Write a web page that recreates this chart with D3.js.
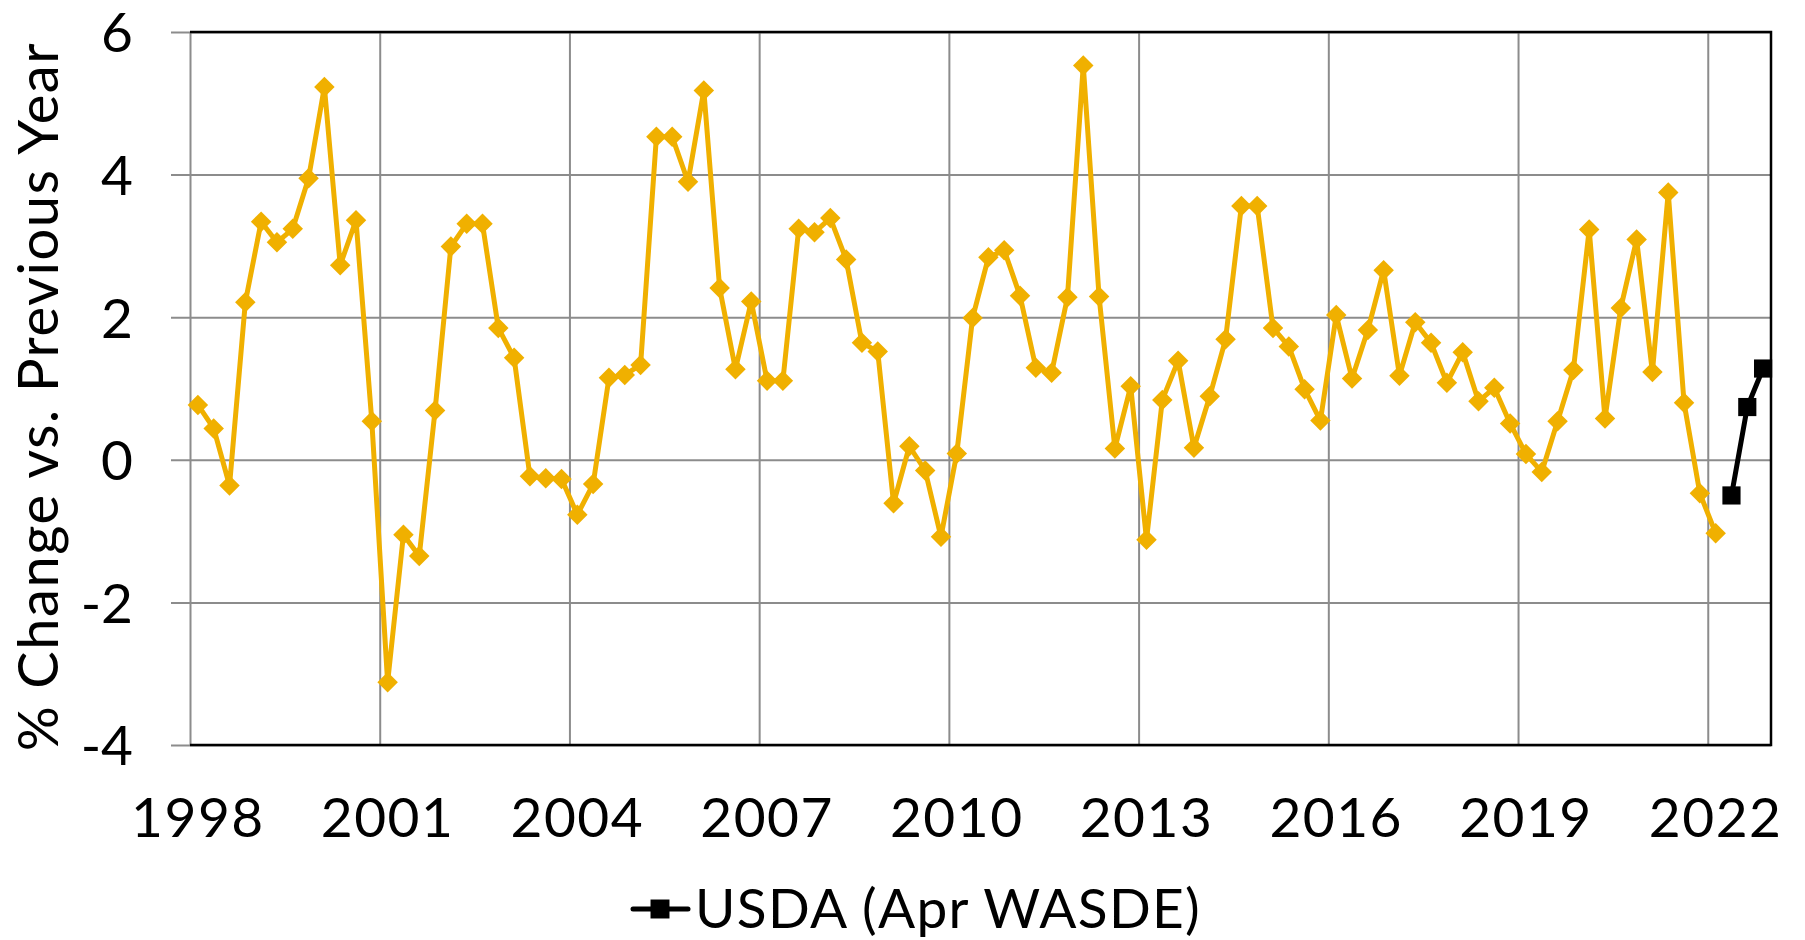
<!DOCTYPE html>
<html>
<head>
<meta charset="utf-8">
<script src="https://cdn.jsdelivr.net/npm/d3@7"></script>
<style>
  body { margin: 0; background: #fff; }
  text { font-family: Lato, "Noto Sans", sans-serif; fill: #000; }
</style>
</head>
<body>
<div id="chart"></div>
<script>
//////////////////////////////////////////////////////////////
///////////////////// Data ///////////////////////////////////
//////////////////////////////////////////////////////////////

//Quarterly series, 1998 Q1 through 2022 Q1
const startYear = 1998;
const quarters = [1, 2, 3, 4];
const yearTicks = [1998, 2001, 2004, 2007, 2010, 2013, 2016, 2019, 2022];
const yTicks = [-4, -2, 0, 2, 4, 6];

const historyValues = [
  0.77, 0.44, -0.36, 2.21, 3.34, 3.05, 3.24, 3.95, 5.23, 2.73, 3.36, 0.54,
  -3.12, -1.05, -1.35, 0.69, 2.99, 3.31, 3.31, 1.85, 1.43, -0.23, -0.26, -0.27,
  -0.77, -0.34, 1.15, 1.19, 1.33, 4.53, 4.53, 3.9, 5.18, 2.41, 1.27, 2.22,
  1.11, 1.11, 3.24, 3.19, 3.39, 2.81, 1.64, 1.52, -0.61, 0.19, -0.15, -1.08,
  0.09, 1.99, 2.84, 2.94, 2.3, 1.29, 1.22, 2.28, 5.53, 2.29, 0.16, 1.03,
  -1.12, 0.84, 1.39, 0.17, 0.89, 1.69, 3.56, 3.56, 1.85, 1.59, 0.99, 0.55,
  2.03, 1.14, 1.82, 2.66, 1.18, 1.93, 1.64, 1.08, 1.51, 0.82, 1.01, 0.51,
  0.08, -0.17, 0.54, 1.26, 3.23, 0.58, 2.13, 3.09, 1.23, 3.75, 0.8, -0.47,
  -1.03,
];

//USDA (Apr WASDE), 2022 Q2 - Q4
const usdaYear = 2022;
const usdaQuarters = [2, 3, 4];
const usdaValues = [-0.5, 0.74, 1.28];

const goldColor = "#F0B000";

//////////////////////////////////////////////////////////////
///////////////////// Setup //////////////////////////////////
//////////////////////////////////////////////////////////////

const margin = { left: 190, top: 32, right: 34, bottom: 195 },
  width = 1805 - margin.left - margin.right,
  height = 940 - margin.top - margin.bottom;

const svg = d3
  .select("#chart")
  .append("svg")
  .attr("width", 1805)
  .attr("height", 940)
  .append("g")
  .attr("transform", `translate(${margin.left},${margin.top})`);

const x = d3.scaleLinear().domain([1998, 2023]).range([0, width]);
const y = d3.scaleLinear().domain([-4, 6]).range([height, 0]);

//quarter -> decimal year at the middle of the quarter
const qTime = (year, q) => year + (q - 1) / 4 + 0.125;

const history = historyValues.map((v, i) => ({
  t: qTime(startYear + Math.floor(i / 4), quarters[i % 4]),
  v: v,
}));
const usda = usdaValues.map((v, i) => ({
  t: qTime(usdaYear, usdaQuarters[i]),
  v: v,
}));

//////////////////////////////////////////////////////////////
///////////////////// Grid & Axes ////////////////////////////
//////////////////////////////////////////////////////////////

//vertical gridlines
svg
  .append("g")
  .attr("class", "xgrid")
  .attr("transform", `translate(0,${height})`)
  .call(d3.axisBottom(x).tickValues(yearTicks).tickSize(-height).tickFormat(""))
  .call((g) => g.select(".domain").remove())
  .selectAll("line")
  .attr("stroke", "#8c8c8c")
  .attr("stroke-width", 2);

//horizontal gridlines + outer ticks (plain hyphen for negatives, like the original)
const yAxis = svg
  .append("g")
  .attr("class", "yaxis")
  .call(
    d3
      .axisLeft(y)
      .tickValues(yTicks)
      .tickSize(19)
      .tickPadding(38)
      .tickFormat((d) => String(d))
  );
yAxis.select(".domain").remove();
yAxis
  .selectAll("line")
  .attr("stroke", "#8c8c8c")
  .attr("stroke-width", 2)
  .attr("x1", -19)
  .attr("x2", width);
yAxis
  .selectAll("text")
  .style("font-size", "55px")
  .attr("dy", "0.36em");

//year labels, centred on each year's first quarter
svg
  .append("g")
  .selectAll("text")
  .data(yearTicks)
  .enter()
  .append("text")
  .attr("x", (d) => x(qTime(d, 1)))
  .attr("y", height + 92)
  .attr("text-anchor", "middle")
  .style("font-size", "55px")
  .style("letter-spacing", "1.5px")
  .text((d) => d);

//plot border: black top, right and bottom
svg
  .append("path")
  .attr("d", `M0,0H${width}V${height}H0`)
  .attr("fill", "none")
  .attr("stroke", "#000")
  .attr("stroke-width", 2.5);

//y axis title
svg
  .append("text")
  .attr("transform", `translate(${58 - margin.left},${height / 2 + 8}) rotate(-90)`)
  .attr("text-anchor", "middle")
  .style("font-size", "56px")
  .style("letter-spacing", "1.6px")
  .text("% Change vs. Previous Year");

//////////////////////////////////////////////////////////////
///////////////////// Series /////////////////////////////////
//////////////////////////////////////////////////////////////

const line = d3
  .line()
  .x((d) => x(d.t))
  .y((d) => y(d.v));

svg
  .append("path")
  .datum(history)
  .attr("d", line)
  .attr("fill", "none")
  .attr("stroke", goldColor)
  .attr("stroke-width", 5)
  .attr("stroke-linejoin", "round");

svg
  .selectAll(".diamond")
  .data(history)
  .enter()
  .append("path")
  .attr("class", "diamond")
  .attr("d", d3.symbol(d3.symbolSquare, 210))
  .attr("transform", (d) => `translate(${x(d.t)},${y(d.v)}) rotate(45)`)
  .attr("fill", goldColor);

svg
  .append("path")
  .datum(usda)
  .attr("d", line)
  .attr("fill", "none")
  .attr("stroke", "#000")
  .attr("stroke-width", 5);

svg
  .selectAll(".usdaMark")
  .data(usda)
  .enter()
  .append("path")
  .attr("class", "usdaMark")
  .attr("d", d3.symbol(d3.symbolSquare, 330))
  .attr("transform", (d) => `translate(${x(d.t)},${y(d.v)})`)
  .attr("fill", "#000");

//////////////////////////////////////////////////////////////
///////////////////// Legend /////////////////////////////////
//////////////////////////////////////////////////////////////

const legend = svg
  .append("g")
  .attr("transform", `translate(${633 - margin.left},${909 - margin.top})`);

legend
  .append("line")
  .attr("x1", 0)
  .attr("x2", 55)
  .attr("stroke", "#000")
  .attr("stroke-width", 5)
  .attr("stroke-linecap", "round");

legend
  .append("path")
  .attr("d", d3.symbol(d3.symbolSquare, 360))
  .attr("transform", "translate(27,0)")
  .attr("fill", "#000");

legend
  .append("text")
  .attr("x", 62)
  .attr("y", 19)
  .style("font-size", "55px")
  .style("letter-spacing", "1.3px")
  .text("USDA (Apr WASDE)");
</script>
</body>
</html>
